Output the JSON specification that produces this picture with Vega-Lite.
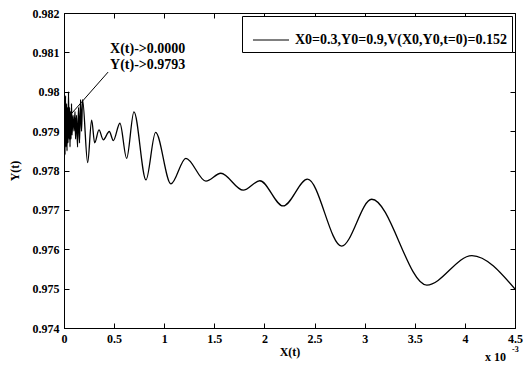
{
  "$schema": "https://vega.github.io/schema/vega-lite/v6.json",
  "width": 451,
  "height": 315,
  "autosize": {"type": "none"},
  "padding": {"left": 64, "top": 13, "right": 13, "bottom": 41},
  "background": "white",
  "config": {
    "view": {"stroke": "black", "strokeWidth": 1},
    "font": "Liberation Serif",
    "axis": {
      "labelFont": "Liberation Serif", "labelFontSize": 12, "labelFontWeight": "bold", "labelColor": "black",
      "titleFont": "Liberation Serif", "titleFontSize": 12, "titleFontWeight": "bold", "titleColor": "black",
      "domainColor": "black", "tickColor": "black", "grid": false, "tickSize": -5, "labelPadding": 10
    }
  },
  "datasets": {
    "curve": [
      {"x": 0.000, "y": 0.9793},
      {"x": 0.005, "y": 0.9800},
      {"x": 0.010, "y": 0.9784},
      {"x": 0.015, "y": 0.9799},
      {"x": 0.020, "y": 0.9786},
      {"x": 0.025, "y": 0.9797},
      {"x": 0.030, "y": 0.9785},
      {"x": 0.035, "y": 0.9796},
      {"x": 0.040, "y": 0.9787},
      {"x": 0.045, "y": 0.9800},
      {"x": 0.050, "y": 0.9788},
      {"x": 0.055, "y": 0.9796},
      {"x": 0.060, "y": 0.9786},
      {"x": 0.065, "y": 0.9795},
      {"x": 0.070, "y": 0.9788},
      {"x": 0.075, "y": 0.9797},
      {"x": 0.080, "y": 0.9789},
      {"x": 0.090, "y": 0.9794},
      {"x": 0.100, "y": 0.9790},
      {"x": 0.110, "y": 0.9795},
      {"x": 0.115, "y": 0.9788},
      {"x": 0.125, "y": 0.9794},
      {"x": 0.135, "y": 0.9786},
      {"x": 0.145, "y": 0.9796},
      {"x": 0.155, "y": 0.9787},
      {"x": 0.165, "y": 0.9798},
      {"x": 0.175, "y": 0.9790},
      {"x": 0.185, "y": 0.9798},
      {"x": 0.236, "y": 0.9782},
      {"x": 0.276, "y": 0.97928},
      {"x": 0.306, "y": 0.9787},
      {"x": 0.349, "y": 0.97903},
      {"x": 0.392, "y": 0.97878},
      {"x": 0.452, "y": 0.97899},
      {"x": 0.492, "y": 0.97876},
      {"x": 0.558, "y": 0.9792},
      {"x": 0.625, "y": 0.97831},
      {"x": 0.698, "y": 0.97949},
      {"x": 0.818, "y": 0.97776},
      {"x": 0.914, "y": 0.97897},
      {"x": 1.067, "y": 0.97766},
      {"x": 1.216, "y": 0.97831},
      {"x": 1.416, "y": 0.97773},
      {"x": 1.565, "y": 0.97793},
      {"x": 1.788, "y": 0.9775},
      {"x": 1.954, "y": 0.97774},
      {"x": 2.186, "y": 0.9771},
      {"x": 2.43, "y": 0.97778},
      {"x": 2.77, "y": 0.97608},
      {"x": 3.07, "y": 0.97727},
      {"x": 3.62, "y": 0.97509},
      {"x": 4.07, "y": 0.97584},
      {"x": 4.5, "y": 0.97499}
    ]
  },
  "layer": [
    {
      "data": {"name": "curve"},
      "mark": {"type": "line", "interpolate": "monotone", "strokeWidth": 1.3, "clip": true},
      "encoding": {
        "x": {"field": "x", "type": "quantitative",
              "scale": {"domain": [0, 4.5], "nice": false, "zero": false},
              "axis": {"orient": "bottom", "values": [0, 0.5, 1, 1.5, 2, 2.5, 3, 3.5, 4, 4.5], "labelExpr": "datum.value", "title": "X(t)", "titlePadding": 2, "labelFlush": false}},
        "y": {"field": "y", "type": "quantitative",
              "scale": {"domain": [0.974, 0.982], "nice": false, "zero": false},
              "axis": {"orient": "left", "values": [0.974, 0.975, 0.976, 0.977, 0.978, 0.979, 0.98, 0.981, 0.982], "labelExpr": "datum.value", "title": "Y(t)", "titlePadding": 11, "labelFlush": false}},
        "color": {"datum": "X0=0.3,Y0=0.9,V(X0,Y0,t=0)=0.152", "type": "nominal",
                  "scale": {"range": ["black"]},
                  "legend": {"title": null, "orient": "top-right", "offset": 3, "strokeColor": "black", "fillColor": "white",
                             "padding": 5, "symbolOffset": 5, "labelOffset": 5, "symbolType": "stroke", "symbolSize": 1300, "symbolStrokeWidth": 1,
                             "labelFont": "Liberation Serif", "labelFontSize": 14, "labelFontWeight": "bold", "labelColor": "black", "labelLimit": 400}}
      }
    },
    {
      "data": {"values": [{"x": 0.44, "y": 0.9805, "x2": 0.08, "y2": 0.97946}]},
      "mark": {"type": "rule", "color": "black", "strokeWidth": 1},
      "encoding": {
        "x": {"field": "x", "type": "quantitative",
              "axis": {"orient": "top", "values": [0, 0.5, 1, 1.5, 2, 2.5, 3, 3.5, 4, 4.5], "labels": false, "title": null, "domain": false}},
        "y": {"field": "y", "type": "quantitative",
              "axis": {"orient": "right", "values": [0.974, 0.975, 0.976, 0.977, 0.978, 0.979, 0.98, 0.981, 0.982], "labels": false, "title": null, "domain": false}},
        "x2": {"field": "x2"},
        "y2": {"field": "y2"}
      }
    },
    {
      "data": {"values": [{"x": 0.46, "y": 0.98109, "t": "X(t)->0.0000"}, {"x": 0.46, "y": 0.98068, "t": "Y(t)->0.9793"}]},
      "mark": {"type": "text", "align": "left", "baseline": "middle", "fontSize": 14, "fontWeight": "bold", "font": "Liberation Serif", "color": "black"},
      "encoding": {
        "x": {"field": "x", "type": "quantitative", "axis": null},
        "y": {"field": "y", "type": "quantitative", "axis": null},
        "text": {"field": "t"}
      }
    },
    {
      "data": {"values": [{"x": 4.2, "y": 0.97326, "t": "x 10", "s": 12}, {"x": 4.47, "y": 0.97345, "t": "-3", "s": 8}]},
      "mark": {"type": "text", "align": "left", "baseline": "middle", "fontWeight": "bold", "font": "Liberation Serif", "color": "black", "clip": false},
      "encoding": {
        "x": {"field": "x", "type": "quantitative", "axis": null},
        "y": {"field": "y", "type": "quantitative", "axis": null},
        "text": {"field": "t"},
        "size": {"field": "s", "type": "quantitative", "scale": null, "legend": null}
      }
    }
  ],
  "resolve": {"axis": {"x": "independent", "y": "independent"}}
}
